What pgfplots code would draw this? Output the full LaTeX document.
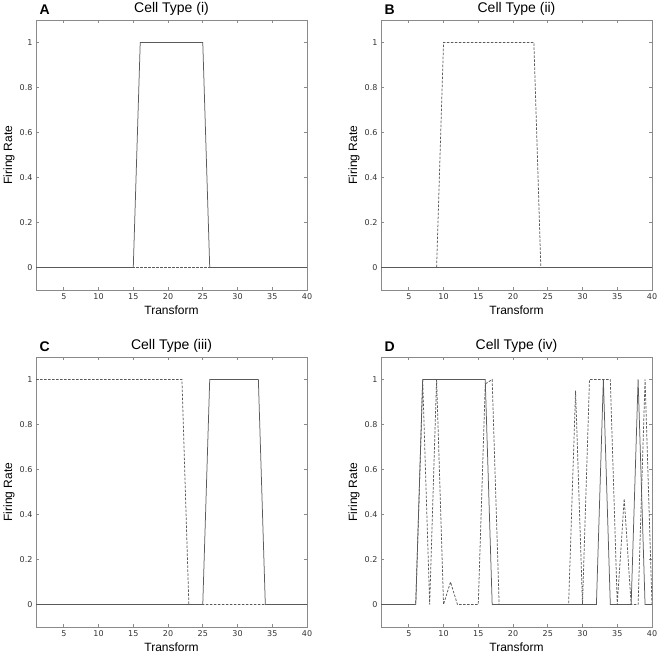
\documentclass[border=0pt]{standalone}
\usepackage{pgfplots}
\pgfplotsset{compat=1.18}
\usepackage{fontspec}
\setmainfont{Liberation Sans}
\newfontfamily\tickfont{DejaVu Sans}
\definecolor{linegray}{HTML}{5A5A5A}
\definecolor{framegray}{HTML}{8A8A8A}
\definecolor{textgray}{HTML}{333333}
\tikzset{letter/.style={anchor=base west, font=\bfseries\fontsize{14}{16}\selectfont, yshift=5pt},
  ylab/.style={rotate=90, anchor=center, font=\fontsize{12}{14}\selectfont}}
\pgfplotsset{
  cellstyle/.style={
    scale only axis,
    width=271pt, height=270pt,
    xmin=1, xmax=40, ymin=-0.1, ymax=1.1,
    xtick={5,10,15,20,25,30,35,40},
    ytick={0,0.2,0.4,0.6,0.8,1},
    yticklabels={0,0.2,0.4,0.6,0.8,1},
    tick align=inside,
    major tick length=3pt,
    axis line style={framegray, line width=0.7pt},
    every tick/.style={framegray, line width=0.6pt},
    /pgf/number format/assume math mode=true,
    ticklabel style={font=\tickfont\fontsize{8}{9}\selectfont, text=textgray},
    xlabel={Transform},
    every axis x label/.style={at={(axis description cs:0.5,0)}, anchor=center, yshift=-20pt, font=\fontsize{12}{14}\selectfont},
    every axis title/.style={at={(axis description cs:0.5,1)}, anchor=center, yshift=11pt, font=\fontsize{14}{16}\selectfont},
    clip mode=individual,
  },
  solidline/.style={color=linegray, line width=0.75pt, mark=none},
  dashline/.style={color=linegray, line width=0.75pt, mark=none, dash pattern=on 2.5pt off 1.5pt},
}
\begin{document}
\begin{tikzpicture}
\useasboundingbox (0,0) rectangle (661pt,655pt);
% Panel A
\begin{axis}[cellstyle, at={(36pt,365pt)}, anchor=south west, title={Cell Type (i)}]
\addplot[dashline] coordinates {(1,0) (40,0)};
\addplot[solidline] coordinates {(1,0) (15,0) (16,1) (25,1) (26,0) (40,0)};
\node[letter] at (rel axis cs:0,1) {A};
\node[ylab] at ([xshift=-27pt]rel axis cs:0,0.5) {Firing Rate};
\end{axis}
% Panel B
\begin{axis}[cellstyle, at={(381pt,365pt)}, anchor=south west, title={Cell Type (ii)}]
\addplot[solidline] coordinates {(1,0) (40,0)};
\addplot[dashline] coordinates {(1,0) (9,0) (10,1) (23,1) (24,0) (40,0)};
\node[letter] at (rel axis cs:0,1) {B};
\node[ylab] at ([xshift=-27pt]rel axis cs:0,0.5) {Firing Rate};
\end{axis}
% Panel C
\begin{axis}[cellstyle, at={(36pt,28pt)}, anchor=south west, title={Cell Type (iii)}]
\addplot[dashline] coordinates {(1,1) (22,1) (23,0) (40,0)};
\addplot[solidline] coordinates {(1,0) (25,0) (26,1) (33,1) (34,0) (40,0)};
\node[letter] at (rel axis cs:0,1) {C};
\node[ylab] at ([xshift=-27pt]rel axis cs:0,0.5) {Firing Rate};
\end{axis}
% Panel D
\begin{axis}[cellstyle, at={(381pt,28pt)}, anchor=south west, title={Cell Type (iv)}]
\addplot[dashline] coordinates {(1,0) (6,0) (7,1) (8,0) (9,1) (10,0) (11,0.1) (12,0) (15,0) (16,0.98) (17,1) (18,0) (28,0) (29,0.95) (30,0) (31,1) (34,1) (35,0) (36,0.47) (37,0) (38,0) (39,1) (40,0)};
\addplot[solidline] coordinates {(1,0) (6,0) (7,1) (16,1) (17,0) (32,0) (33,1) (34,0) (37,0) (38,1) (39,0) (40,0)};
\node[letter] at (rel axis cs:0,1) {D};
\node[ylab] at ([xshift=-27pt]rel axis cs:0,0.5) {Firing Rate};
\end{axis}
\end{tikzpicture}
\end{document}
